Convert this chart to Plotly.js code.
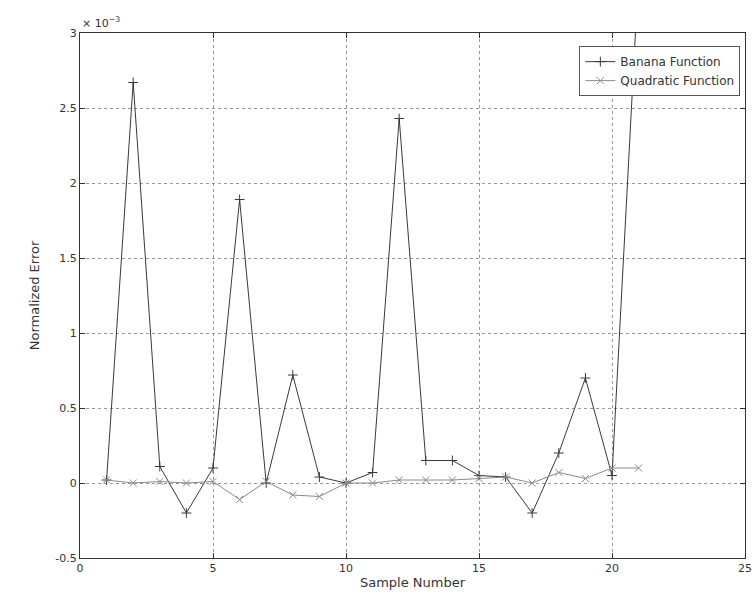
<!DOCTYPE html>
<html>
<head>
<meta charset="utf-8">
<script src="https://cdn.plot.ly/plotly-3.0.1.min.js"></script>
<style>html,body{margin:0;padding:0;background:#fff}#chart{width:754px;height:607px}</style>
</head>
<body>
<div id="chart"></div>
<script>
// values in units of 1e-3
const sampleNumber = [1,2,3,4,5,6,7,8,9,10,11,12,13,14,15,16,17,18,19,20,21];
const bananaError = [0.02,2.67,0.11,-0.2,0.1,1.89,0.0,0.72,0.04,0.0,0.07,2.43,0.15,0.15,0.05,0.04,-0.2,0.2,0.7,0.05,3.4];
const quadraticError = [0.02,0.0,0.01,0.0,0.01,-0.11,0.01,-0.08,-0.09,0.0,0.0,0.02,0.02,0.02,0.03,0.04,0.0,0.07,0.03,0.1,0.1];
const xTicks = [0,5,10,15,20,25];
const yTicks = [-0.5,0,0.5,1,1.5,2,2.5,3];
const seriesNames = ["Banana Function","Quadratic Function"];

const fontFam = "DejaVu Sans, Verdana, sans-serif";
const traces = [
  {x: sampleNumber, y: bananaError, name: seriesNames[0], mode: "lines+markers",
   line: {color: "#3a3a3a", width: 1}, marker: {symbol: "cross-thin-open", size: 7, color: "#3a3a3a", line: {width: 1, color: "#3a3a3a"}}},
  {x: sampleNumber, y: quadraticError, name: seriesNames[1], mode: "lines+markers",
   line: {color: "#8a8a8a", width: 1}, marker: {symbol: "x-thin-open", size: 7, color: "#8a8a8a", line: {width: 1, color: "#8a8a8a"}}}
];
const layout = {
  width: 754, height: 607,
  margin: {l: 80, r: 9, t: 33, b: 49},
  paper_bgcolor: "#fff", plot_bgcolor: "#fff",
  font: {family: fontFam, size: 11, color: "#333"},
  showlegend: true,
  legend: {x: 0.993, y: 0.975, xanchor: "right", yanchor: "top", bgcolor: "#fff",
           bordercolor: "#555", borderwidth: 1, font: {size: 12}, tracegroupgap: 0,
           itemwidth: 30},
  xaxis: {range: [0,25], tickvals: xTicks, ticktext: xTicks.map(String), showgrid: true,
          gridcolor: "#999", griddash: "dot", gridwidth: 1, zeroline: false,
          showline: true, linecolor: "#333", mirror: "ticks", ticks: "inside", ticklen: 5, tickcolor: "#333",
          ticklabeloverflow: "allow",
          title: {text: "Sample Number", font: {size: 13}, standoff: 3}},
  yaxis: {range: [-0.5,3], tickvals: yTicks, ticktext: yTicks.map(String), showgrid: true,
          gridcolor: "#999", griddash: "dot", gridwidth: 1, zeroline: false,
          showline: true, linecolor: "#333", mirror: "ticks", ticks: "inside", ticklen: 5, tickcolor: "#333",
          ticklabeloverflow: "allow",
          title: {text: "Normalized Error", font: {size: 13}, standoff: 12}},
  annotations: [{xref: "paper", yref: "paper", x: 0, y: 1, xanchor: "left", yanchor: "bottom",
                 text: "× 10<sup>−3</sup>", showarrow: false, font: {size: 11}, yshift: 1}]
};
Plotly.newPlot("chart", traces, layout, {displayModeBar: false, staticPlot: true});
</script>
</body>
</html>
